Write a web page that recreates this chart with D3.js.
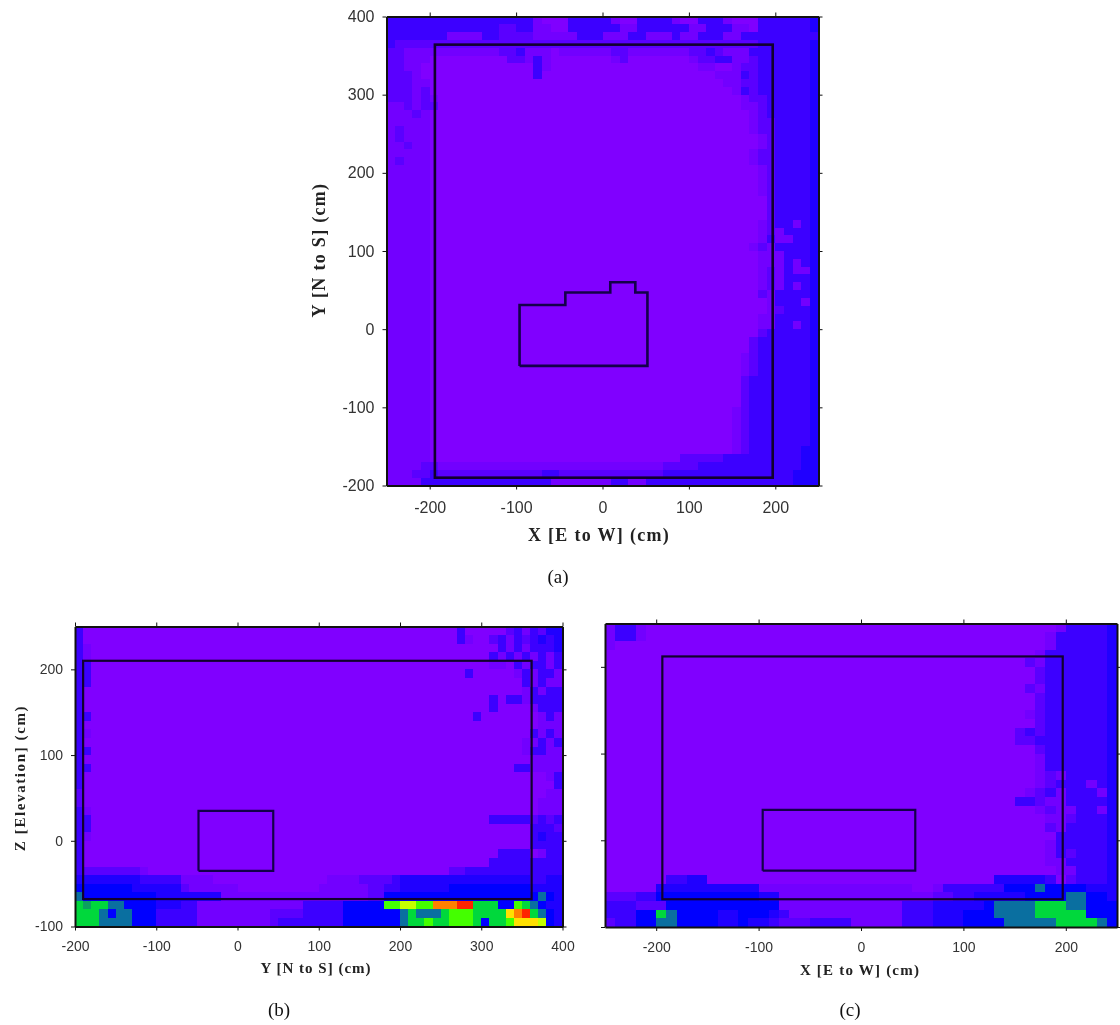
<!DOCTYPE html>
<html>
<head>
<meta charset="utf-8">
<script src="https://cdn.jsdelivr.net/npm/d3@7"></script>
<style>
  html, body { margin: 0; background: #fff; }
  svg { display: block; filter: blur(0.4px); }
  .tick line, .domain { stroke: #111; }
  .tick text { fill: #333; font-family: "Liberation Sans", Arial, sans-serif; }
  .axis-title { font-family: "Liberation Serif", serif; font-weight: bold; fill: #222; }
  .caption { font-family: "Liberation Serif", serif; fill: #111; font-size: 19px; text-anchor: middle; }
</style>
</head>
<body>
<svg id="chart" width="1120" height="1025"></svg>
<script>
// level of each 10 cm cell, hex digit per cell, top row first
const levelColors = ['#8000ff', '#7200ff', '#5a00ff', '#3c00ff', '#2000ff', '#0000ff',
  '#0a6fa0', '#0ca060', '#00d83c', '#44ff00', '#c4ff00', '#ffe000', '#ff8000', '#ff2400']

const rowsA = [
  '3333333333 3333333100 0333331003 3331003331 0003333334',
  '3333333333 3332233110 0333333113 3333311333 1103333334',
  '3333333111 1332222111 1133311133 1113113331 1333333333',
  '3222222222 2222222222 2222222222 2222222222 2223333334',
  '2211111111 1112231110 1111112211 1111122321 1133333334',
  '2211100000 0000221310 0000001200 0000012233 1123333334',
  '2211000000 0000000310 0000000000 0000001100 1223333334',
  '2221000000 0000000300 0000000000 0000000011 1323333334',
  '2221100000 0000000000 0000000000 0000000001 1223333334',
  '2221200000 0000000000 0000000000 0000000000 1323333334',
  '2221210000 0000000000 0000000000 0000000000 0122333334',
  '1121220000 0000000000 0000000000 0000000000 0112333334',
  '1112100000 0000000000 0000000000 0000000000 0012333334',
  '1111100000 0000000000 0000000000 0000000000 0012233334',
  '1211100000 0000000000 0000000000 0000000000 0012233334',
  '1211100000 0000000000 0000000000 0000000000 0001233334',
  '1121100000 0000000000 0000000000 0000000000 0001233334',
  '1111100000 0000000000 0000000000 0000000000 0012233334',
  '1211100000 0000000000 0000000000 0000000000 0012233334',
  '1111100000 0000000000 0000000000 0000000000 0001233334',
  '1111100000 0000000000 0000000000 0000000000 0001233334',
  '1111100000 0000000000 0000000000 0000000000 0001233334',
  '1111100000 0000000000 0000000000 0000000000 0001233334',
  '1111100000 0000000000 0000000000 0000000000 0000233334',
  '1111100000 0000000000 0000000000 0000000000 0000233334',
  '1111100000 0000000000 0000000000 0000000000 0000233334',
  '1111100000 0000000000 0000000000 0000000000 0001233134',
  '1111100000 0000000000 0000000000 0000000000 0001213334',
  '1111100000 0000000000 0000000000 0000000000 0001311334',
  '1111100000 0000000000 0000000000 0000000000 0012133334',
  '1111100000 0000000000 0000000000 0000000000 0001113334',
  '1111100000 0000000000 0000000000 0000000000 0001113134',
  '1111100000 0000000000 0000000000 0000000000 0001213114',
  '1111100000 0000000000 0000000000 0000000000 0001213334',
  '1111100000 0000000000 0000000000 0000000000 0001213134',
  '1111100000 0000000000 0000000000 0000000000 0002133334',
  '1111100000 0000000000 0000000000 0000000000 0000133314',
  '1111100000 0000000000 0000000000 0000000000 0000123334',
  '1111100000 0000000000 0000000000 0000000000 0001133334',
  '1111100000 0000000000 0000000000 0000000000 0001133134',
  '1111100000 0000000000 0000000000 0000000000 0002333334',
  '1111100000 0000000000 0000000000 0000000000 0023333334',
  '1111100000 0000000000 0000000000 0000000000 0023333334',
  '1111100000 0000000000 0000000000 0000000000 0123333334',
  '1111100000 0000000000 0000000000 0000000000 0123333334',
  '1111100000 0000000000 0000000000 0000000000 0123333334',
  '1111100000 0000000000 0000000000 0000000000 0233333334',
  '1111100000 0000000000 0000000000 0000000000 0233333334',
  '1111100000 0000000000 0000000000 0000000000 0233333334',
  '1111100000 0000000000 0000000000 0000000000 0233333334',
  '1111100000 0000000000 0000000000 0000000000 1233333334',
  '1111100000 0000000000 0000000000 0000000000 1233333334',
  '1111100000 0000000000 0000000000 0000000000 1233333334',
  '1111100000 0000000000 0000000000 0000000000 1233333334',
  '1111100000 0000000000 0000000000 0000000000 1233333334',
  '1111100000 0000000000 0000000000 0000000000 1233333344',
  '1111100000 0000000000 0000000000 0000222223 3333333344',
  '1111221111 1111111111 1111111111 1122223333 3333333344',
  '1112232222 2222222233 2222222222 2233333333 3333333444',
  '1111333333 3333333331 1111113311 3333333333 3333333444'
]

const rowsB = [
  '3000000000 0000000000 0000000000 0000000000 0000000300 0002313244',
  '3000000000 0000000000 0000000000 0000000000 0000000310 0231323434',
  '3100000000 0000000000 0000000000 0000000000 0000000000 0031313334',
  '3100000000 0000000000 0000000000 0000000000 0000000000 0313131313',
  '3300000000 0000000000 0000000000 0000000000 0000000000 0110313313',
  '3300000000 0000000000 0000000000 0000000000 0000000030 0000131331',
  '3300000000 0000000000 0000000000 0000000000 0000000000 0000031311',
  '3000000000 0000000000 0000000000 0000000000 0000000000 0000013133',
  '3000000000 0000000000 0000000000 0000000000 0000000000 0303313333',
  '3000000000 0000000000 0000000000 0000000000 0000000000 0300001333',
  '3300000000 0000000000 0000000000 0000000000 0000000003 0000000131',
  '3000000000 0000000000 0000000000 0000000000 0000000000 0000000111',
  '3100000000 0000000000 0000000000 0000000000 0000000000 0000003131',
  '3000000000 0000000000 0000000000 0000000000 0000000000 0000011313',
  '3300000000 0000000000 0000000000 0000000000 0000000000 0000013311',
  '3000000000 0000000000 0000000000 0000000000 0000000000 0000001111',
  '3300000000 0000000000 0000000000 0000000000 0000000000 0000331111',
  '3000000000 0000000000 0000000000 0000000000 0000000000 0000000013',
  '3000000000 0000000000 0000000000 0000000000 0000000000 0000000003',
  '2000000000 0000000000 0000000000 0000000000 0000000000 0000000011',
  '2000000000 0000000000 0000000000 0000000000 0000000000 0000000111',
  '3100000000 0000000000 0000000000 0000000000 0000000000 0000000111',
  '3300000000 0000000000 0000000000 0000000000 0000000000 0333332323',
  '3300000000 0000000000 0000000000 0000000000 0000000000 0000003332',
  '3100000000 0000000000 0000000000 0000000000 0000000000 0000003433',
  '3000000000 0000000000 0000000000 0000000000 0000000000 0000003333',
  '3000000000 0000000000 0000000000 0000000000 0000000000 0033330133',
  '3000000000 0000000000 0000000000 0000000000 0000000000 0333333333',
  '3222222210 0000000000 0000000000 0000000000 0000002233 3333333333',
  '4444444433 3331111000 0000000000 0111122223 4444444444 4444443344',
  '5555555444 4442111111 0000000000 1111112233 4444445555 5555554444',
  '6555555555 4444444411 1111111111 1111112255 5555555555 5555555654',
  '8788665555 4443311111 1111111133 3335555599 aa99cccdd8 8855986544',
  '8886566555 3333311111 1111222233 3335555555 6866689998 888bcd8654',
  '8886666555 3333311111 1111233333 3335555555 6889889998 5889bbba54'
]

const rowsC = [
  '1331000000 0000000000 0000000000 0000000000 0000133334',
  '1331000000 0000000000 0000000000 0000000000 0001333334',
  '1000000000 0000000000 0000000000 0000000000 0001333334',
  '0000000000 0000000000 0000000000 0000000000 0013333334',
  '0000000000 0000000000 0000000000 0000000000 0213333334',
  '0000000000 0000000000 0000000000 0000000000 0023333334',
  '0000000000 0000000000 0000000000 0000000000 0023333334',
  '0000000000 0000000000 0000000000 0000000000 0213333334',
  '0000000000 0000000000 0000000000 0000000000 0023333334',
  '0000000000 0000000000 0000000000 0000000000 0023333334',
  '0000000000 0000000000 0000000000 0000000000 0123333334',
  '0000000000 0000000000 0000000000 0000000000 0023333334',
  '0000000000 0000000000 0000000000 0000000000 2323333334',
  '0000000000 0000000000 0000000000 0000000000 2233333334',
  '0000000000 0000000000 0000000000 0000000000 0023333334',
  '0000000000 0000000000 0000000000 0000000000 0013333334',
  '0000000000 0000000000 0000000000 0000000000 0013333334',
  '0000000000 0000000000 0000000000 0000000000 0012133334',
  '0000000000 0000000000 0000000000 0000000000 0012333134',
  '0000000000 0000000000 0000000000 0000000000 0123133314',
  '0000000000 0000000000 0000000000 0000000000 3321133334',
  '0000000000 0000000000 0000000000 0000000000 0012113314',
  '0000000000 0000000000 0000000000 0000000000 0001123334',
  '0000000000 0000000000 0000000000 0000000000 0002133334',
  '0000000000 0000000000 0000000000 0000000000 0000333334',
  '0000000000 0000000000 0000000000 0000000000 0001333334',
  '0000000000 0000000000 0000000000 0000000000 0001323334',
  '0000000000 0000000000 0000000000 0000000000 0001133334',
  '0000000000 0000000000 0000000000 0000000000 0000113334',
  '0000003344 0000000000 0000000000 0000000044 4443023334',
  '0000044444 4444411111 1111111111 0013333335 5565555444',
  '2223355555 5555544111 1111111111 1122334444 4555566554',
  '3332225555 5555555111 1111111113 3344444566 6688866555',
  '3335586555 5445554311 1111111113 3344455566 6688888555',
  '2335566555 5445443222 3333111113 3344455556 6666888865'
]

const xTicksA = [-200, -100, 0, 100, 200]
const yTicksA = [-200, -100, 0, 100, 200, 300, 400]
const xTicksB = [-200, -100, 0, 100, 200, 300, 400]
const yTicksB = [-100, 0, 100, 200]
const xTicksC = [-200, -100, 0, 100, 200]
const yTicksC = [-100, 0, 100, 200]

// room outline and the object inside it, in cm
const roomA = { x: [-194, 197], y: [-190, 364] }
const roomB = { x: [-190, 362], y: [-68, 210] }
const roomC = { x: [-194, 197], y: [-68, 212] }
const objectAX = [-96, -96, -43, -43, 9, 9, 38, 38, 52, 52, -96]
const objectAY = [-47, 31, 31, 47, 47, 60, 60, 47, 47, -47, -47]
const objectBX = [-48, -48, 44, 44, -48]
const objectBY = [-35, 35, 35, -35, -35]
const objectCX = [-96, -96, 53, 53, -96]
const objectCY = [-35, 35, 35, -35, -35]

const color = d3.scaleOrdinal(d3.range(levelColors.length), levelColors)
const svg = d3.select('#chart')
const plainNumber = d => String(d)

/**
 * Draws one panel: the cells, the room outline, the object outline and the four axes
 *
 * @param {object} p The panel description
 */
function drawPanel (p) {
  const x = d3.scaleLinear().domain(p.xDomain).range(p.xRange)
  const y = d3.scaleLinear().domain(p.yDomain).range(p.yRange)

  const cells = []
  p.rows.forEach((row, j) => {
    row.replace(/ /g, '').split('').forEach((c, i) => {
      cells.push({ x: p.xDomain[0] + i * 10, y: p.yDomain[1] - j * 10, v: parseInt(c, 16) })
    })
  })

  const g = svg.append('g')
  g.selectAll('rect.cell')
    .data(cells)
    .enter()
    .append('rect')
    .attr('class', 'cell')
    .attr('x', d => x(d.x))
    .attr('y', d => y(d.y))
    .attr('width', d => x(d.x + 10) - x(d.x))
    .attr('height', d => y(d.y - 10) - y(d.y))
    .attr('fill', d => color(d.v))
    .attr('shape-rendering', 'crispEdges')

  g.append('rect')
    .attr('x', x(p.room.x[0]))
    .attr('y', y(p.room.y[1]))
    .attr('width', x(p.room.x[1]) - x(p.room.x[0]))
    .attr('height', y(p.room.y[0]) - y(p.room.y[1]))
    .attr('fill', 'none')
    .attr('stroke', '#12002e')
    .attr('stroke-width', p.lineWidth)

  const line = d3.line().x(d => x(d[0])).y(d => y(d[1]))
  g.append('path')
    .attr('d', line(d3.zip(p.objectX, p.objectY)))
    .attr('fill', 'none')
    .attr('stroke', '#14004a')
    .attr('stroke-width', p.lineWidth)

  // ticks stick out on all four sides, only left and bottom are labelled
  const axes = [
    [d3.axisBottom(x).tickValues(p.xTicks).tickFormat(plainNumber).tickPadding(p.padX), 0, p.yRange[0]],
    [d3.axisTop(x).tickValues(p.xTicks).tickFormat(''), 0, p.yRange[1]],
    [d3.axisLeft(y).tickValues(p.yTicks).tickFormat(p.yLabels ? plainNumber : '').tickPadding(p.padY), p.xRange[0], 0],
    [d3.axisRight(y).tickValues(p.yTicks).tickFormat(''), p.xRange[1], 0]
  ]
  axes.forEach(a => {
    const ax = g.append('g')
      .attr('transform', `translate(${a[1]},${a[2]})`)
      .call(a[0].tickSize(4).tickSizeOuter(0))
    ax.select('.domain').attr('stroke', '#08004a').attr('stroke-width', 2)
    ax.selectAll('text').style('font-size', p.tickFont + 'px').style('font-family', '"Liberation Sans", sans-serif')
  })

  g.append('text')
    .attr('class', 'axis-title')
    .attr('x', p.xTitle[0])
    .attr('y', p.xTitle[1])
    .attr('text-anchor', 'middle')
    .style('font-size', p.titleFont + 'px')
    .style('letter-spacing', p.xSpacing + 'px')
    .text(p.xLabel)

  if (p.yLabel) {
    g.append('text')
      .attr('class', 'axis-title')
      .attr('transform', `translate(${p.yTitle[0]},${p.yTitle[1]}) rotate(-90)`)
      .attr('text-anchor', 'middle')
      .style('font-size', p.titleFont + 'px')
      .style('letter-spacing', p.ySpacing + 'px')
      .text(p.yLabel)
  }

  svg.append('text').attr('class', 'caption').attr('x', p.caption[0]).attr('y', p.caption[1]).text(p.captionText)
}

drawPanel({
  rows: rowsA,
  xDomain: [-250, 250], yDomain: [-200, 400],
  xRange: [386.5, 818.5], yRange: [485.5, 16.5],
  room: roomA, objectX: objectAX, objectY: objectAY, lineWidth: 2.6,
  xTicks: xTicksA, yTicks: yTicksA, yLabels: true,
  tickFont: 16, padX: 12, padY: 8,
  xLabel: 'X [E to W] (cm)', xTitle: [599, 541],
  yLabel: 'Y [N to S] (cm)', yTitle: [325, 250],
  titleFont: 18, xSpacing: 1.3, ySpacing: 1.3,
  captionText: '(a)', caption: [558, 583]
})

drawPanel({
  rows: rowsB,
  xDomain: [-200, 400], yDomain: [-100, 250],
  xRange: [75, 562.5], yRange: [926.5, 626.5],
  room: roomB, objectX: objectBX, objectY: objectBY, lineWidth: 2.2,
  xTicks: xTicksB, yTicks: yTicksB, yLabels: true,
  tickFont: 14, padX: 11, padY: 8,
  xLabel: 'Y [N to S] (cm)', xTitle: [316, 973],
  yLabel: 'Z [Elevation] (cm)', yTitle: [25, 778],
  titleFont: 15, xSpacing: 1, ySpacing: 1.6,
  captionText: '(b)', caption: [279, 1016]
})

drawPanel({
  rows: rowsC,
  xDomain: [-250, 250], yDomain: [-100, 250],
  xRange: [605, 1117], yRange: [927, 623.5],
  room: roomC, objectX: objectCX, objectY: objectCY, lineWidth: 2.2,
  xTicks: xTicksC, yTicks: yTicksC, yLabels: false,
  tickFont: 14, padX: 11, padY: 8,
  xLabel: 'X [E to W] (cm)', xTitle: [860, 975],
  yLabel: null,
  titleFont: 15, xSpacing: 1.2, ySpacing: 1,
  captionText: '(c)', caption: [850, 1016]
})
</script>
</body>
</html>
